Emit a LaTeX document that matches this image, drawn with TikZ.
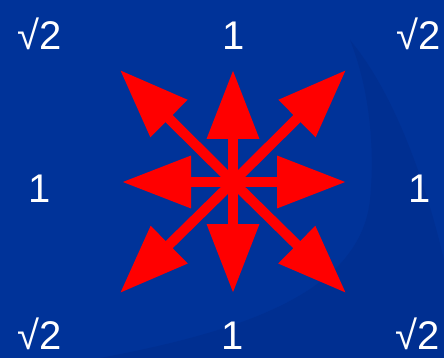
\documentclass[tikz,border=0pt]{standalone}
\usepackage{fontspec}
\setmainfont{Liberation Sans}
\usetikzlibrary{arrows.meta}
\definecolor{bg}{RGB}{0,51,153}
\definecolor{bgdark}{RGB}{0,47,145}
\definecolor{arr}{RGB}{255,0,0}
\begin{document}
\begin{tikzpicture}[x=1pt,y=-1pt,
  lab/.style={text=white,font=\fontsize{40}{40}\selectfont,anchor=base,inner sep=0pt},
  spoke/.style={draw=arr,line width=10pt,line cap=butt,-{Triangle[length=69pt,width=50pt]}}]
\fill[bg] (0,0) rectangle (444,358);
\useasboundingbox (0,0) rectangle (444,358);
% faint background swoosh
\fill[bgdark] (100,358) .. controls (250,330) and (360,290) .. (370,200)
  .. controls (375,150) and (370,90) .. (350,40)
  .. controls (400,100) and (430,200) .. (444,260) -- (444,358) -- cycle;
% centre and tips
\coordinate (c) at (233,182);
\coordinate (n) at (233,70);
\coordinate (s) at (233,293);
\coordinate (w) at (122,182);
\coordinate (e) at (346,182);
\coordinate (nw) at (120,70);
\coordinate (ne) at (346,70);
\coordinate (sw) at (120,293);
\coordinate (se) at (346,293);
\foreach \t in {n,s,w,e,nw,ne,sw,se}
  \draw[spoke] (c) -- (\t);
\fill[arr] (c) circle (7pt);
% labels
\node[lab] (tl) at (40,50) {√2};
\node[lab] (tm) at (234,50) {1};
\node[lab] (tr) at (419,50) {√2};
\node[lab] (ml) at (40,203) {1};
\node[lab] (mr) at (420,203) {1};
\node[lab] (bl) at (40,349) {√2};
\node[lab] (bm) at (233,349) {1};
\node[lab] (br) at (418,349) {√2};
\end{tikzpicture}
\end{document}
